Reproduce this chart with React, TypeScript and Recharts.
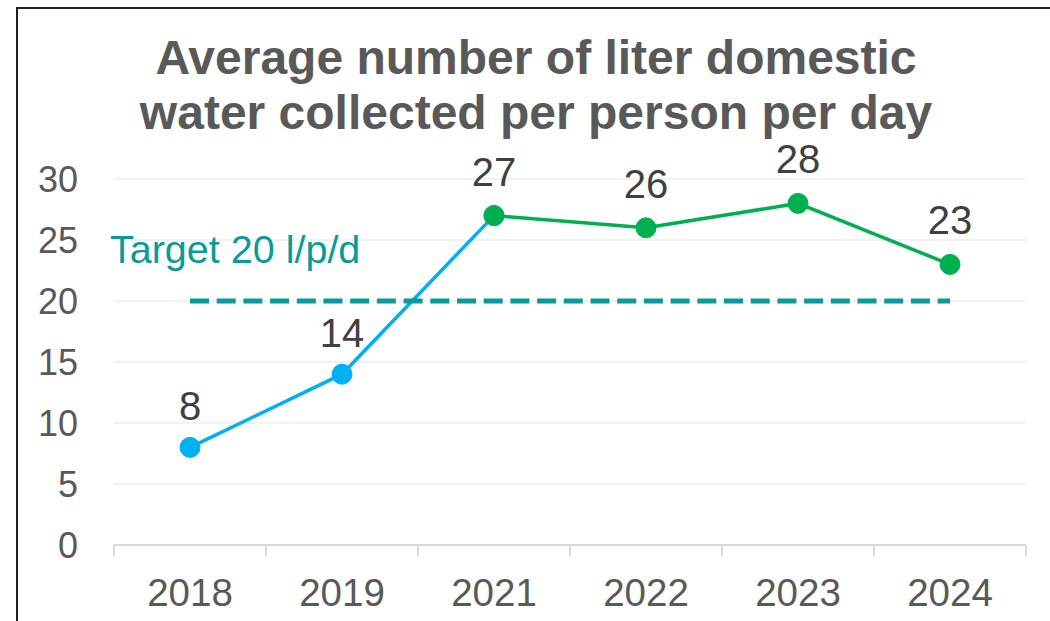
import React from 'react';
import { LineChart, Line, XAxis, YAxis, CartesianGrid, LabelList } from 'recharts';

const years = ['2018', '2019', '2021', '2022', '2023', '2024'];
// first phase (blue) and later phase (green) share the 2021 point
const earlyLitres = [8, 14, 27, null, null, null];
const laterLitres = [null, null, 27, 26, 28, 23];
const targetLitres = [20, 20, 20, 20, 20, 20];
const yTicks = [0, 5, 10, 15, 20, 25, 30];
const targetLabel = 'Target 20 l/p/d';

const data = years.map((year, i) => ({
  year,
  early: earlyLitres[i],
  later: laterLitres[i],
  target: targetLitres[i],
}));

const FONT = "'Liberation Sans', Arial, Helvetica, sans-serif";
const TICK_SIZE = 6;
const X_TICK_MARGIN = 28;

// category label plus the small tick marks that sit on the band edges
const YearTick = (props: any) => {
  const { x, y, payload, index } = props;
  const half = payload.offset || 0;
  const axisY = y - TICK_SIZE - X_TICK_MARGIN;
  return (
    <g>
      <line x1={x - half} y1={axisY} x2={x - half} y2={axisY + 11} stroke="#d9d9d9" strokeWidth={2} />
      {index === years.length - 1 && (
        <line x1={x + half} y1={axisY} x2={x + half} y2={axisY + 11} stroke="#d9d9d9" strokeWidth={2} />
      )}
      <text x={x} y={y} dy="0.71em" textAnchor="middle" fill="#595959" fontSize={38.5} fontFamily={FONT}>
        {payload.value}
      </text>
    </g>
  );
};

const valueLabel = (offset: number, skip?: (i: number) => boolean) => (props: any) => {
  const { x, y, value, index } = props;
  if (value == null || (skip && skip(index))) return null;
  return (
    <text x={x} y={y - offset} textAnchor="middle" fill="#404040" fontSize={40} fontFamily={FONT}>
      {value}
    </text>
  );
};

const TargetText = (props: any) => {
  const { x, y, index } = props;
  if (index !== 0) return null;
  return (
    <text x={x - 80} y={y - 38} fill="#0a9a9a" fontSize={39.5} fontFamily={FONT}>
      {targetLabel}
    </text>
  );
};

export default function App() {
  return (
    <div style={{ position: 'absolute', left: 0, top: 0, width: 1050, height: 621, overflow: 'hidden', background: '#fff' }}>
      <div
        style={{
          position: 'absolute',
          left: 16,
          top: 7,
          width: 1100,
          height: 700,
          border: '2px solid #1e1e1e',
        }}
      />
      <div
        style={{
          position: 'absolute',
          left: 36,
          top: 30,
          width: 1000,
          textAlign: 'center',
          fontFamily: FONT,
          fontWeight: 'bold',
          fontSize: 48,
          lineHeight: '55px',
          color: '#595959',
        }}
      >
        Average number of liter domestic
        <br />
        water collected per person per day
      </div>
      <div style={{ position: 'absolute', left: 0, top: 0 }}>
        <LineChart width={1050} height={621} data={data} margin={{ top: 179, right: 24, left: 54, bottom: 16 }}>
          <CartesianGrid vertical={false} stroke="#ececec" strokeWidth={1.5} />
          <XAxis
            dataKey="year"
            scale="band"
            height={60}
            axisLine={{ stroke: '#d9d9d9', strokeWidth: 2 }}
            tickLine={false}
            tickSize={TICK_SIZE}
            tickMargin={X_TICK_MARGIN}
            tick={<YearTick />}
            interval={0}
          />
          <YAxis
            domain={[0, 30]}
            ticks={yTicks}
            width={60}
            axisLine={false}
            tickLine={false}
            tickMargin={30}
            tick={{ fill: '#595959', fontSize: 36, fontFamily: FONT }}
          />
          <Line
            dataKey="early"
            stroke="#00b0f0"
            strokeWidth={3.5}
            dot={{ r: 10, fill: '#00b0f0', stroke: '#00b0f0', strokeWidth: 1 }}
            activeDot={false}
            connectNulls={false}
            isAnimationActive={false}
          >
            <LabelList dataKey="early" content={valueLabel(27, (i) => laterLitres[i] != null)} />
          </Line>
          <Line
            dataKey="target"
            stroke="#0a9a9a"
            strokeWidth={5}
            strokeDasharray="19 7.7"
            dot={false}
            activeDot={false}
            isAnimationActive={false}
          >
            <LabelList dataKey="target" content={<TargetText />} />
          </Line>
          <Line
            dataKey="later"
            stroke="#00b050"
            strokeWidth={3.5}
            dot={{ r: 10, fill: '#00b050', stroke: '#00b050', strokeWidth: 1 }}
            activeDot={false}
            isAnimationActive={false}
          >
            <LabelList dataKey="later" content={valueLabel(30)} />
          </Line>
        </LineChart>
      </div>
    </div>
  );
}
